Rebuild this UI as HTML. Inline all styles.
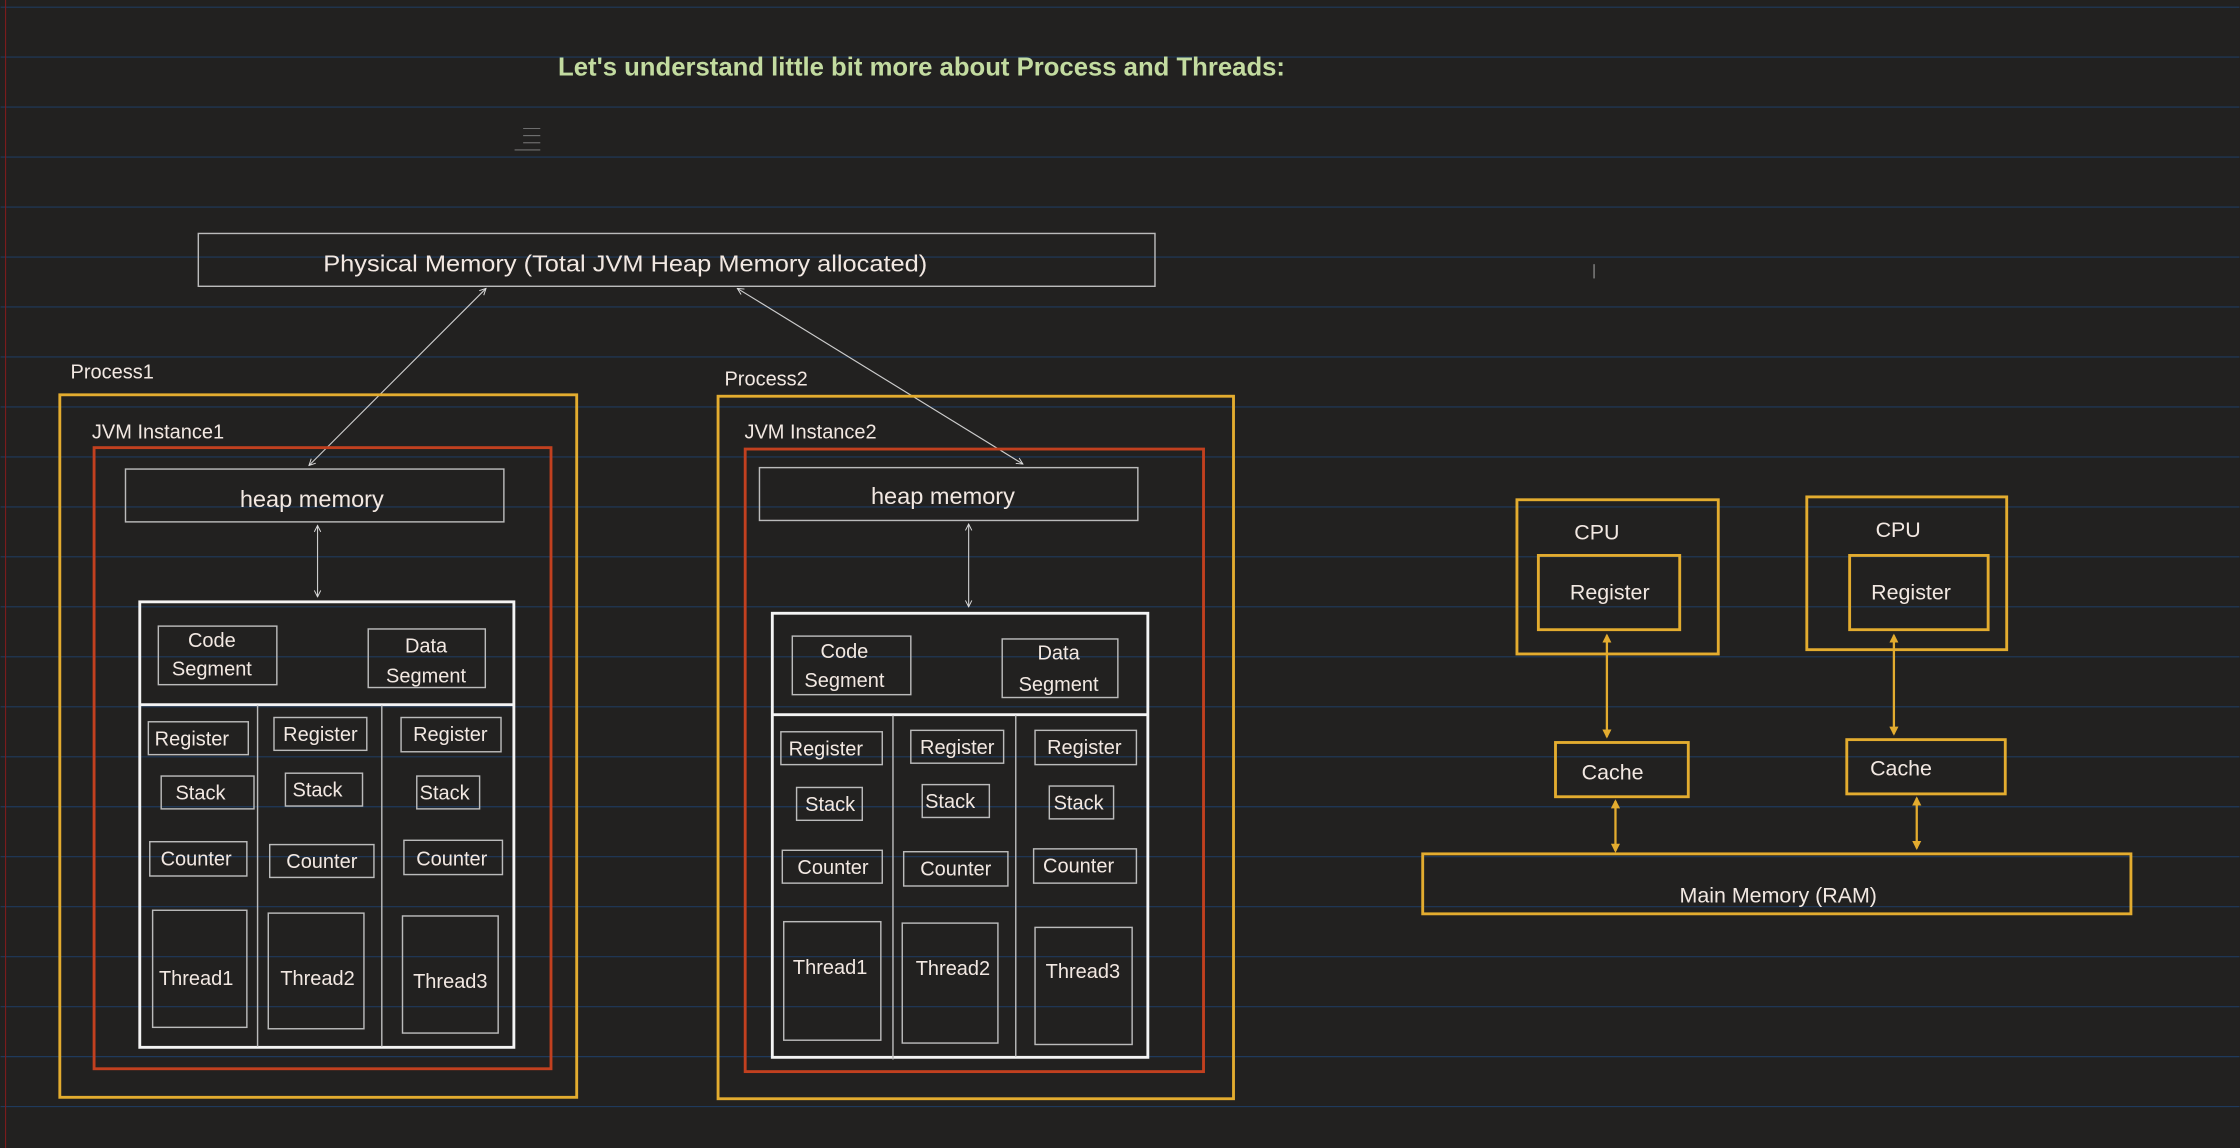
<!DOCTYPE html>
<html><head><meta charset="utf-8"><style>
html,body{margin:0;padding:0;background:#222120;}
svg{display:block}
text{font-family:"Liberation Sans",sans-serif;fill:#f2e8e2;}
</style></head><body>
<svg width="2240" height="1148" viewBox="0 0 1568 804" xmlns="http://www.w3.org/2000/svg">
<defs>
<marker id="aw" viewBox="0 0 10 10" refX="9" refY="5" markerWidth="7" markerHeight="7" orient="auto-start-reverse"><path d="M1,1 L9,5 L1,9" fill="none" stroke="#ddd" stroke-width="1.2"/></marker>
<marker id="ao" viewBox="0 0 10 10" refX="8" refY="5" markerWidth="4" markerHeight="4" orient="auto-start-reverse"><path d="M0,0 L10,5 L0,10 Z" fill="#e3ac2f"/></marker>
</defs>
<rect width="1568" height="804" fill="#222120"/>
<g stroke="#1f3a5c" stroke-width="0.8">
<line x1="0" x2="1568" y1="5" y2="5"/><line x1="0" x2="1568" y1="40" y2="40"/><line x1="0" x2="1568" y1="75" y2="75"/><line x1="0" x2="1568" y1="110" y2="110"/><line x1="0" x2="1568" y1="145" y2="145"/><line x1="0" x2="1568" y1="180" y2="180"/><line x1="0" x2="1568" y1="215" y2="215"/><line x1="0" x2="1568" y1="250" y2="250"/><line x1="0" x2="1568" y1="285" y2="285"/><line x1="0" x2="1568" y1="320" y2="320"/><line x1="0" x2="1568" y1="355" y2="355"/><line x1="0" x2="1568" y1="390" y2="390"/><line x1="0" x2="1568" y1="425" y2="425"/><line x1="0" x2="1568" y1="460" y2="460"/><line x1="0" x2="1568" y1="495" y2="495"/><line x1="0" x2="1568" y1="530" y2="530"/><line x1="0" x2="1568" y1="565" y2="565"/><line x1="0" x2="1568" y1="600" y2="600"/><line x1="0" x2="1568" y1="635" y2="635"/><line x1="0" x2="1568" y1="670" y2="670"/><line x1="0" x2="1568" y1="705" y2="705"/><line x1="0" x2="1568" y1="740" y2="740"/><line x1="0" x2="1568" y1="775" y2="775"/>
</g>
<line x1="3.5" y1="0" x2="3.5" y2="804" stroke="#7a1c1c" stroke-width="0.8"/>

<text x="645" y="53" font-size="18" font-weight="bold" text-anchor="middle" style="fill:#c3dba0">Let's understand little bit more about Process and Threads:</text>
<g stroke="#888" stroke-width="0.6"><line x1="366" y1="90" x2="378" y2="90"/><line x1="366" y1="95" x2="378" y2="95"/><line x1="366" y1="100" x2="378" y2="100"/><line x1="360" y1="105" x2="378" y2="105"/></g>
<line x1="1116" y1="185" x2="1116" y2="195" stroke="#999" stroke-width="0.8"/>

<rect x="138.5" y="163.5" width="670" height="37" fill="none" stroke="#bbb" stroke-width="1"/>
<text x="226" y="190" font-size="16.5" textLength="423" lengthAdjust="spacingAndGlyphs">Physical Memory (Total JVM Heap Memory allocated)</text>
<line x1="340" y1="202" x2="216" y2="326" stroke="#ccc" stroke-width="0.8" marker-start="url(#aw)" marker-end="url(#aw)"/>
<line x1="516" y1="202" x2="716" y2="325" stroke="#ccc" stroke-width="0.8" marker-start="url(#aw)" marker-end="url(#aw)"/>

<!-- Process1 -->
<text x="49" y="265" font-size="14">Process1</text>
<rect x="41.5" y="276.5" width="362" height="492" fill="none" stroke="#e3ac2f" stroke-width="2"/>
<text x="64" y="307" font-size="14">JVM Instance1</text>
<rect x="65.5" y="313.5" width="320" height="435" fill="none" stroke="#c2401f" stroke-width="2"/>
<rect x="87.5" y="328.5" width="265" height="37" fill="none" stroke="#bbb" stroke-width="1"/>
<text x="218" y="355" font-size="16.5" text-anchor="middle">heap memory</text>
<line x1="222" y1="368" x2="222" y2="418" stroke="#ccc" stroke-width="0.8" marker-start="url(#aw)" marker-end="url(#aw)"/>
<rect x="97.5" y="421.5" width="262" height="312" fill="none" stroke="#f4f4f4" stroke-width="2"/>
<line x1="97" y1="493.5" x2="359" y2="493.5" stroke="#f4f4f4" stroke-width="2"/>
<line x1="180" y1="494" x2="180" y2="733" stroke="#bbb" stroke-width="1"/>
<line x1="267" y1="494" x2="267" y2="733" stroke="#bbb" stroke-width="1"/>
<g fill="none" stroke="#bbb" stroke-width="1">
<rect x="110.5" y="438.5" width="83" height="41"/><rect x="257.5" y="440.5" width="82" height="41"/>
<rect x="103.5" y="505.5" width="70" height="23"/><rect x="191.5" y="502.5" width="65" height="23"/><rect x="280.5" y="502.5" width="70" height="24"/>
<rect x="112.5" y="543.5" width="65" height="23"/><rect x="199.5" y="541.5" width="54" height="23"/><rect x="291.5" y="543.5" width="44" height="23"/>
<rect x="104.5" y="589.5" width="68" height="24"/><rect x="188.5" y="591.5" width="73" height="23"/><rect x="282.5" y="588.5" width="69" height="24"/>
<rect x="106.5" y="637.5" width="66" height="82"/><rect x="187.5" y="639.5" width="67" height="81"/><rect x="281.5" y="641.5" width="67" height="82"/>
</g>
<g font-size="14" text-anchor="middle">
<text x="148" y="453">Code</text><text x="148" y="473">Segment</text>
<text x="298" y="457">Data</text><text x="298" y="478">Segment</text>
<text x="134" y="522">Register</text><text x="224" y="519">Register</text><text x="315" y="519">Register</text>
<text x="140" y="560">Stack</text><text x="222" y="558">Stack</text><text x="311" y="560">Stack</text>
<text x="137" y="606">Counter</text><text x="225" y="608">Counter</text><text x="316" y="606">Counter</text>
<text x="137" y="690">Thread1</text><text x="222" y="690">Thread2</text><text x="315" y="692">Thread3</text>
</g>

<!-- Process2 -->
<text x="507" y="270" font-size="14">Process2</text>
<rect x="502.5" y="277.5" width="361" height="492" fill="none" stroke="#e3ac2f" stroke-width="2"/>
<text x="521" y="307" font-size="14">JVM Instance2</text>
<rect x="521.5" y="314.5" width="321" height="436" fill="none" stroke="#c2401f" stroke-width="2"/>
<rect x="531.5" y="327.5" width="265" height="37" fill="none" stroke="#bbb" stroke-width="1"/>
<text x="660" y="353" font-size="16.5" text-anchor="middle">heap memory</text>
<line x1="678" y1="367" x2="678" y2="425" stroke="#ccc" stroke-width="0.8" marker-start="url(#aw)" marker-end="url(#aw)"/>
<rect x="540.5" y="429.5" width="263" height="311" fill="none" stroke="#f4f4f4" stroke-width="2"/>
<line x1="540" y1="500.5" x2="803" y2="500.5" stroke="#f4f4f4" stroke-width="2"/>
<line x1="625" y1="501" x2="625" y2="742" stroke="#bbb" stroke-width="1"/>
<line x1="711" y1="501" x2="711" y2="740" stroke="#bbb" stroke-width="1"/>
<g fill="none" stroke="#bbb" stroke-width="1">
<rect x="554.5" y="445.5" width="83" height="41"/><rect x="701.5" y="447.5" width="81" height="41"/>
<rect x="546.5" y="512.5" width="71" height="23"/><rect x="637.5" y="511.5" width="65" height="23"/><rect x="724.5" y="511.5" width="71" height="24"/>
<rect x="557.5" y="551.5" width="46" height="23"/><rect x="645.5" y="549.5" width="47" height="23"/><rect x="734.5" y="550.5" width="45" height="23"/>
<rect x="547.5" y="595.5" width="70" height="23"/><rect x="632.5" y="596.5" width="73" height="24"/><rect x="723.5" y="594.5" width="72" height="24"/>
<rect x="548.5" y="645.5" width="68" height="83"/><rect x="631.5" y="646.5" width="67" height="84"/><rect x="724.5" y="649.5" width="68" height="82"/>
</g>
<g font-size="14" text-anchor="middle">
<text x="591" y="461">Code</text><text x="591" y="481">Segment</text>
<text x="741" y="462">Data</text><text x="741" y="484">Segment</text>
<text x="578" y="529">Register</text><text x="670" y="528">Register</text><text x="759" y="528">Register</text>
<text x="581" y="568">Stack</text><text x="665" y="566">Stack</text><text x="755" y="567">Stack</text>
<text x="583" y="612">Counter</text><text x="669" y="613">Counter</text><text x="755" y="611">Counter</text>
<text x="581" y="682">Thread1</text><text x="667" y="683">Thread2</text><text x="758" y="685">Thread3</text>
</g>

<!-- CPU side -->
<g fill="none" stroke="#e3ac2f" stroke-width="2">
<rect x="1062" y="350" width="141" height="108"/><rect x="1077" y="389" width="99" height="52"/>
<rect x="1265" y="348" width="140" height="107"/><rect x="1295" y="389" width="97" height="52"/>
<rect x="1089" y="520" width="93" height="38"/><rect x="1293" y="518" width="111" height="38"/>
<rect x="996" y="598" width="496" height="42"/>
</g>
<g stroke="#e3ac2f" stroke-width="1.6">
<line x1="1125" y1="445" x2="1125" y2="516" marker-start="url(#ao)" marker-end="url(#ao)"/>
<line x1="1326" y1="445" x2="1326" y2="514" marker-start="url(#ao)" marker-end="url(#ao)"/>
<line x1="1131" y1="561" x2="1131" y2="596" marker-start="url(#ao)" marker-end="url(#ao)"/>
<line x1="1342" y1="559" x2="1342" y2="594" marker-start="url(#ao)" marker-end="url(#ao)"/>
</g>
<g font-size="15" text-anchor="middle">
<text x="1118" y="378">CPU</text><text x="1127" y="420">Register</text>
<text x="1329" y="376">CPU</text><text x="1338" y="420">Register</text>
<text x="1129" y="546">Cache</text><text x="1331" y="543">Cache</text>
<text x="1245" y="632">Main Memory (RAM)</text>
</g>
</svg>
</body></html>
